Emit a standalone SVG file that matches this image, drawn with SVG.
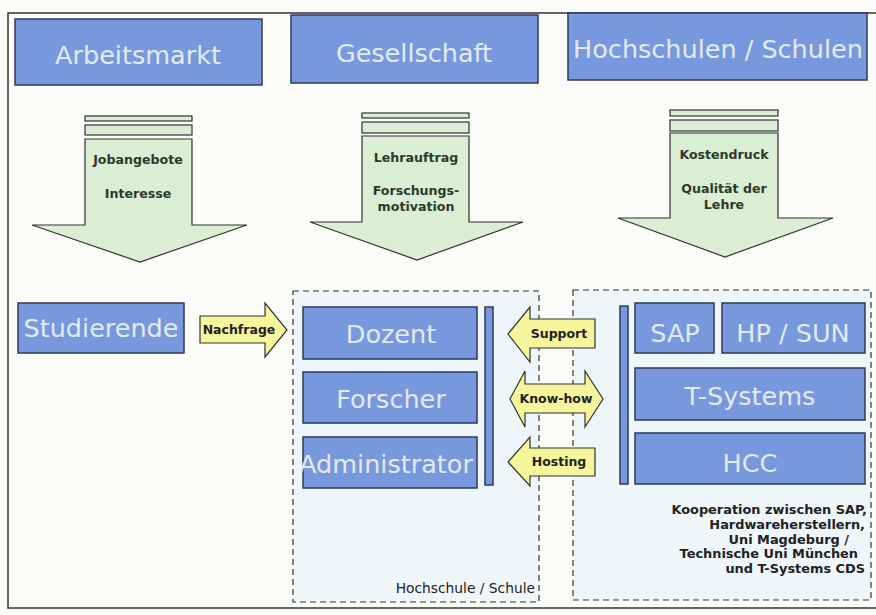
<svg xmlns="http://www.w3.org/2000/svg" width="876" height="615" viewBox="0 0 876 615">
<defs>
<style>
.bg{fill:#fbfbf8}
.frame{fill:none;stroke:#333;stroke-width:1.5}
.blue{fill:#7798dc;stroke:#2e3a5a;stroke-width:1.5}
.bt{font-family:"DejaVu Sans",Verdana,sans-serif;font-size:25.5px;fill:#e2eaf6;text-anchor:middle}
.green{fill:#d9eed3;stroke:#333;stroke-width:1.2}
.gt{font-family:"DejaVu Sans",Verdana,sans-serif;font-size:12.6px;font-weight:bold;fill:#2c3a2c;text-anchor:middle}
.yel{fill:#f6f59c;stroke:#333;stroke-width:1.2}
.yt{font-family:"DejaVu Sans",Verdana,sans-serif;font-size:12.5px;font-weight:bold;fill:#222;text-anchor:middle}
.dash{fill:#eef6fa;stroke:#333;stroke-width:1.2;stroke-dasharray:6 4}
.st{font-family:"DejaVu Sans",Verdana,sans-serif;font-size:12.9px;font-weight:bold;fill:#222;text-anchor:end}
</style>
</defs>
<rect class="bg" x="0" y="0" width="876" height="615"/>
<rect class="frame" x="8" y="13" width="880" height="595"/>

<g id="top-arbeitsmarkt"><rect class="blue" x="15" y="19" width="247" height="66"/><text class="bt" x="138" y="64">Arbeitsmarkt</text></g>
<g id="top-gesellschaft"><rect class="blue" x="291" y="15" width="247" height="68"/><text class="bt" x="414" y="62">Gesellschaft</text></g>
<g id="top-hochschulen"><rect class="blue" x="568" y="13" width="299" height="67"/><text class="bt" x="718" y="58">Hochschulen / Schulen</text></g>

<g id="arrow-arbeitsmarkt">
<rect class="green" x="85" y="116" width="107" height="5"/>
<rect class="green" x="85" y="125" width="107" height="10"/>
<path class="green" d="M85,139 H192 V225 H247 L140,262 L32,225 H85 Z"/>
<text class="gt" x="138" y="164">Jobangebote</text>
<text class="gt" x="138" y="198">Interesse</text>
</g>
<g id="arrow-gesellschaft">
<rect class="green" x="362" y="113" width="107" height="5"/>
<rect class="green" x="362" y="122" width="107" height="11"/>
<path class="green" d="M362,136 H469 V222 H523 L417,260 L310,222 H362 Z"/>
<text class="gt" x="416" y="162">Lehrauftrag</text>
<text class="gt" x="416" y="195">Forschungs-</text>
<text class="gt" x="416" y="211">motivation</text>
</g>
<g id="arrow-hochschulen">
<rect class="green" x="670" y="110" width="108" height="6"/>
<rect class="green" x="670" y="120" width="108" height="11"/>
<path class="green" d="M670,133 H778 V218 H833 L725,257 L618,218 H670 Z"/>
<text class="gt" x="724" y="159">Kostendruck</text>
<text class="gt" x="724" y="193">Qualität der</text>
<text class="gt" x="724" y="209">Lehre</text>
</g>

<g id="studierende"><rect class="blue" x="18" y="303" width="166" height="50"/><text class="bt" x="101" y="337">Studierende</text></g>

<g id="hochschule-box">
<rect class="dash" x="293" y="291" width="246" height="311"/>
<text class="st" x="535" y="593" style="font-weight:normal;font-size:13.8px">Hochschule / Schule</text>
</g>
<g id="partner-box">
<rect class="dash" x="573" y="290" width="298" height="310"/>
<text class="st" x="867" y="514">Kooperation zwischen SAP,</text>
<text class="st" x="865" y="529">Hardwareherstellern,</text>
<text class="st" x="849" y="544">Uni Magdeburg /</text>
<text class="st" x="858" y="558">Technische Uni München</text>
<text class="st" x="865" y="573">und T-Systems CDS</text>
</g>

<g id="dozent"><rect class="blue" x="303" y="307" width="174" height="52"/><text class="bt" x="391" y="343">Dozent</text></g>
<g id="forscher"><rect class="blue" x="303" y="372" width="174" height="51"/><text class="bt" x="391" y="408">Forscher</text></g>
<g id="administrator"><rect class="blue" x="303" y="437" width="174" height="51"/><text class="bt" x="386" y="473">Administrator</text></g>
<g id="bar-left"><rect class="blue" x="485" y="307" width="8" height="178"/></g>

<g id="bar-right"><rect class="blue" x="620" y="306" width="8" height="178"/></g>
<g id="sap"><rect class="blue" x="635" y="303" width="79" height="50"/><text class="bt" x="675" y="342">SAP</text></g>
<g id="hpsun"><rect class="blue" x="722" y="303" width="143" height="50"/><text class="bt" x="793" y="342">HP / SUN</text></g>
<g id="tsystems"><rect class="blue" x="635" y="368" width="230" height="52"/><text class="bt" x="750" y="405">T-Systems</text></g>
<g id="hcc"><rect class="blue" x="635" y="433" width="230" height="51"/><text class="bt" x="750" y="472">HCC</text></g>

<g id="connectors">
<g id="nachfrage">
<path class="yel" d="M200,316 H265 V303 L287,330 L265,357 V343 H200 Z"/>
<text class="yt" x="239" y="334">Nachfrage</text>
</g>
<g id="support">
<path class="yel" d="M595,319 H530 V307 L508,334 L530,362 V348 H595 Z"/>
<text class="yt" x="559" y="338">Support</text>
</g>
<g id="knowhow">
<path class="yel" d="M525,384 V371 L510,399 L525,427 V413 H585 V427 L603,399 L585,371 V384 Z"/>
<text class="yt" x="556" y="403">Know-how</text>
</g>
<g id="hosting">
<path class="yel" d="M595,448 H530 V437 L508,462 L530,486 V476 H595 Z"/>
<text class="yt" x="559" y="466">Hosting</text>
</g>
</g>
</svg>
